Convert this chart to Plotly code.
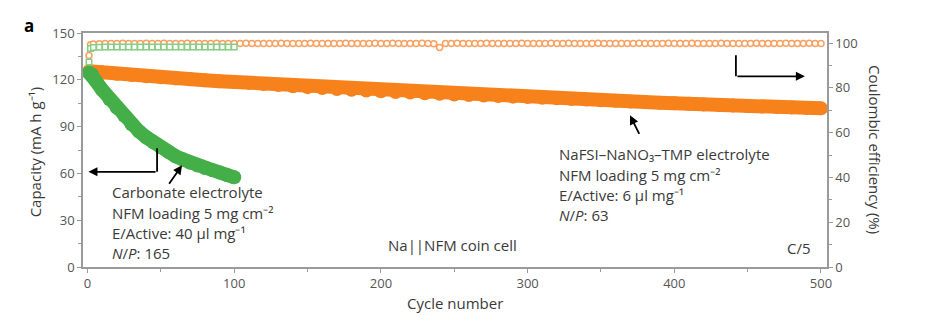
import plotly.graph_objects as go

# ---------------- data ----------------
orange_cycles = [1] + list(range(10, 501, 10))
orange_capacity = [125.5, 124.6, 123.8, 123.0, 122.3, 121.6, 120.9, 120.3, 119.7, 119.1,
                   118.6, 118.0, 117.3, 116.6, 115.9, 115.3, 114.7, 114.1, 113.6, 113.1,
                   112.6, 112.2, 111.8, 111.4, 111.0, 110.6, 110.3, 109.9, 109.6, 109.2,
                   108.9, 108.5, 108.1, 107.7, 107.3, 106.9, 106.5, 106.1, 105.7, 105.3,
                   104.9, 104.6, 104.2, 103.9, 103.5, 103.2, 102.9, 102.6, 102.3, 102.0,
                   101.7]

green_cycles = [1, 3, 5, 10, 15, 20, 25, 30, 35, 40, 45, 50, 55, 60, 65, 70, 75, 80, 85, 90, 95, 100]
green_capacity = [124.5, 123.5, 120.0, 113.5, 107.5, 102.0, 97.0, 91.5, 87.0, 83.2, 79.8,
                  76.8, 73.8, 71.0, 69.0, 66.8, 65.0, 63.5, 62.2, 60.6, 59.0, 57.5]

orange_ce_cycles = [1, 2] + list(range(4, 501, 4))
orange_ce = [94.5, 99.2,
             99.6, 99.7, 99.8, 99.8, 99.8, 99.9, 99.8, 99.8, 99.8, 99.9,
             99.8, 99.8, 99.9, 99.8, 99.8, 99.8, 99.9, 99.8, 99.8, 99.8,
             99.8, 99.9, 99.8, 99.8, 99.8, 99.8, 99.9, 99.8, 99.8, 99.8,
             99.8, 99.8, 99.9, 99.8, 99.8, 99.8, 99.8, 99.9, 99.8, 99.8,
             99.8, 99.8, 99.8, 99.9, 99.8, 99.8, 99.8, 99.8, 99.9, 99.8,
             99.8, 99.9, 99.8, 99.8, 99.8, 99.8, 99.9, 99.8, 99.7, 98.0,
             99.8, 99.8, 99.9, 99.8, 99.8, 99.8, 99.8, 99.9, 99.8, 99.8,
             99.8, 99.8, 99.8, 99.9, 99.8, 99.8, 99.8, 99.8, 99.9, 99.8,
             99.8, 99.9, 99.8, 99.8, 99.8, 99.8, 99.9, 99.8, 99.8, 99.8,
             99.8, 99.8, 99.8, 99.9, 99.8, 99.8, 99.8, 99.8, 99.9, 99.8,
             99.8, 99.8, 99.9, 99.8, 99.8, 99.8, 99.8, 99.9, 99.8, 99.8,
             99.8, 99.8, 99.8, 99.9, 99.8, 99.8, 99.8, 99.8, 99.9, 99.8,
             99.8, 99.8, 99.9, 99.8, 99.8]

green_ce_cycles = [1, 2] + list(range(4, 101, 4))
green_ce = [91.5, 97.6,
            98.0, 98.1, 98.2, 98.2, 98.2, 98.3, 98.2, 98.2, 98.2, 98.3,
            98.2, 98.2, 98.2, 98.3, 98.2, 98.2, 98.2, 98.3, 98.2, 98.2,
            98.2, 98.3, 98.2, 98.2, 98.2]

x_ticks = [0, 100, 200, 300, 400, 500]
y_ticks = [0, 30, 60, 90, 120, 150]
y2_ticks = [0, 20, 40, 60, 80, 100]

# ---------------- styles ----------------
ORANGE = "#F7821B"
GREEN = "#44AF48"
ORANGE_CE = "#F9A060"
GREEN_CE = "#86CE86"
AXIS = "#9a9a9a"
TXT = "#3a3a3a"
FONT = "Open Sans"

fig = go.Figure()

fig.add_trace(go.Scatter(x=orange_cycles, y=orange_capacity, mode="lines+markers",
                         line=dict(color=ORANGE, width=14),
                         marker=dict(color=ORANGE, size=14, line=dict(width=0)),
                         showlegend=False, hoverinfo="skip"))
fig.add_trace(go.Scatter(x=green_cycles, y=green_capacity, mode="lines+markers",
                         line=dict(color=GREEN, width=14),
                         marker=dict(color=GREEN, size=14, line=dict(width=0)),
                         showlegend=False, hoverinfo="skip"))
fig.add_trace(go.Scatter(x=orange_ce_cycles, y=orange_ce, yaxis="y2", mode="markers",
                         marker=dict(symbol="circle", color="white", size=6,
                                     line=dict(color=ORANGE_CE, width=1.5)),
                         showlegend=False, hoverinfo="skip"))
fig.add_trace(go.Scatter(x=green_ce_cycles, y=green_ce, yaxis="y2", mode="markers",
                         marker=dict(symbol="square", color="white", size=5.5,
                                     line=dict(color=GREEN_CE, width=1.5)),
                         showlegend=False, hoverinfo="skip"))

tickfont = dict(family=FONT, size=13, color="#555555")

fig.update_layout(
    width=940, height=326,
    margin=dict(l=83, r=113, t=33, b=59),
    plot_bgcolor="white", paper_bgcolor="white",
    xaxis=dict(range=[-3.1, 504.1], tickvals=x_ticks, ticks="outside", ticklen=4,
               tickcolor=AXIS, tickwidth=1.3, showline=True, linecolor=AXIS, linewidth=1.5,
               mirror=True, showgrid=False, zeroline=False, tickfont=tickfont,
               minor=dict(dtick=50, tick0=0, ticks="outside", ticklen=3, tickcolor=AXIS,
                          tickwidth=1.2, showgrid=False)),
    yaxis=dict(range=[0, 150], tickvals=y_ticks, ticks="outside", ticklen=4,
               tickcolor=AXIS, tickwidth=1.3, showline=True, linecolor=AXIS, linewidth=1.5,
               showgrid=False, zeroline=False, tickfont=tickfont,
               minor=dict(dtick=15, tick0=0, ticks="outside", ticklen=3, tickcolor=AXIS,
                          tickwidth=1.2, showgrid=False)),
    yaxis2=dict(range=[0, 104.5], tickvals=y2_ticks, overlaying="y", side="right",
                ticks="outside", ticklen=4, tickcolor=AXIS, tickwidth=1.3, showline=True,
                linecolor=AXIS, linewidth=1.5, showgrid=False, zeroline=False,
                tickfont=tickfont,
                minor=dict(dtick=10, tick0=0, ticks="outside", ticklen=3, tickcolor=AXIS,
                           tickwidth=1.2, showgrid=False)),
)

ann = []
def text(x, y, s, size=15, xanchor="left", xref="x", yref="y", angle=0, bold=False):
    ann.append(dict(x=x, y=y, xref=xref, yref=yref, text=s, showarrow=False,
                    xanchor=xanchor, yanchor="middle", textangle=angle,
                    font=dict(family=FONT, size=size, color=TXT if not bold else "black")))

# Carbonate text block
text(15.3, 47.9, "Carbonate electrolyte")
text(15.3, 34.4, "NFM loading 5 mg cm⁻²")
text(15.3, 21.6, "E/Active: 40 µl mg⁻¹")
text(15.3, 8.8, "<i>N</i>/<i>P</i>: 165")
# NaFSI text block
text(320, 72.6, "NaFSI–NaNO₃–TMP electrolyte")
text(320, 58.8, "NFM loading 5 mg cm⁻²")
text(320, 46.0, "E/Active: 6 µl mg⁻¹")
text(320, 33.2, "<i>N</i>/<i>P</i>: 63")
text(248.5, 13.9, "Na||NFM coin cell", xanchor="center")
text(494.4, 12.0, "C/5", xanchor="right")
# axis titles
text(-0.0645, 0.49, "Capacity (mA h g⁻¹)", size=15, xanchor="center",
     xref="paper", yref="paper", angle=-90)
text(1.0645, 0.50, "Coulombic efficiency (%)", size=15, xanchor="center",
     xref="paper", yref="paper", angle=90)
text(0.5, -0.155, "Cycle number", size=15, xanchor="center", xref="paper", yref="paper")
text(-0.073, 1.03, "<b>a</b>", size=17, xanchor="center", xref="paper", yref="paper", bold=True)

# arrows
def arrow(x0, y0, x1, y1):
    ann.append(dict(x=x1, y=y1, ax=x0, ay=y0, xref="x", yref="y", axref="x", ayref="y",
                    showarrow=True, arrowhead=2, arrowsize=1, arrowwidth=1.8,
                    arrowcolor="black", text=""))

arrow(54.9, 52.4, 64.4, 65.2)          # carbonate pointer
arrow(47.4, 61.0, 0.6, 61.0)           # left bracket horizontal
arrow(442.0, 122.2, 489.0, 122.2)      # right bracket horizontal
arrow(376.6, 84.4, 369.8, 97.2)        # NaFSI pointer

fig.update_layout(annotations=ann, shapes=[
    dict(type="line", xref="x", yref="y", x0=47.4, x1=47.4, y0=76.1, y1=61.0,
         line=dict(color="black", width=1.8)),
    dict(type="line", xref="x", yref="y", x0=442.0, x1=442.0, y0=135.7, y1=122.2,
         line=dict(color="black", width=1.8)),
])

fig.write_html("out.html")
